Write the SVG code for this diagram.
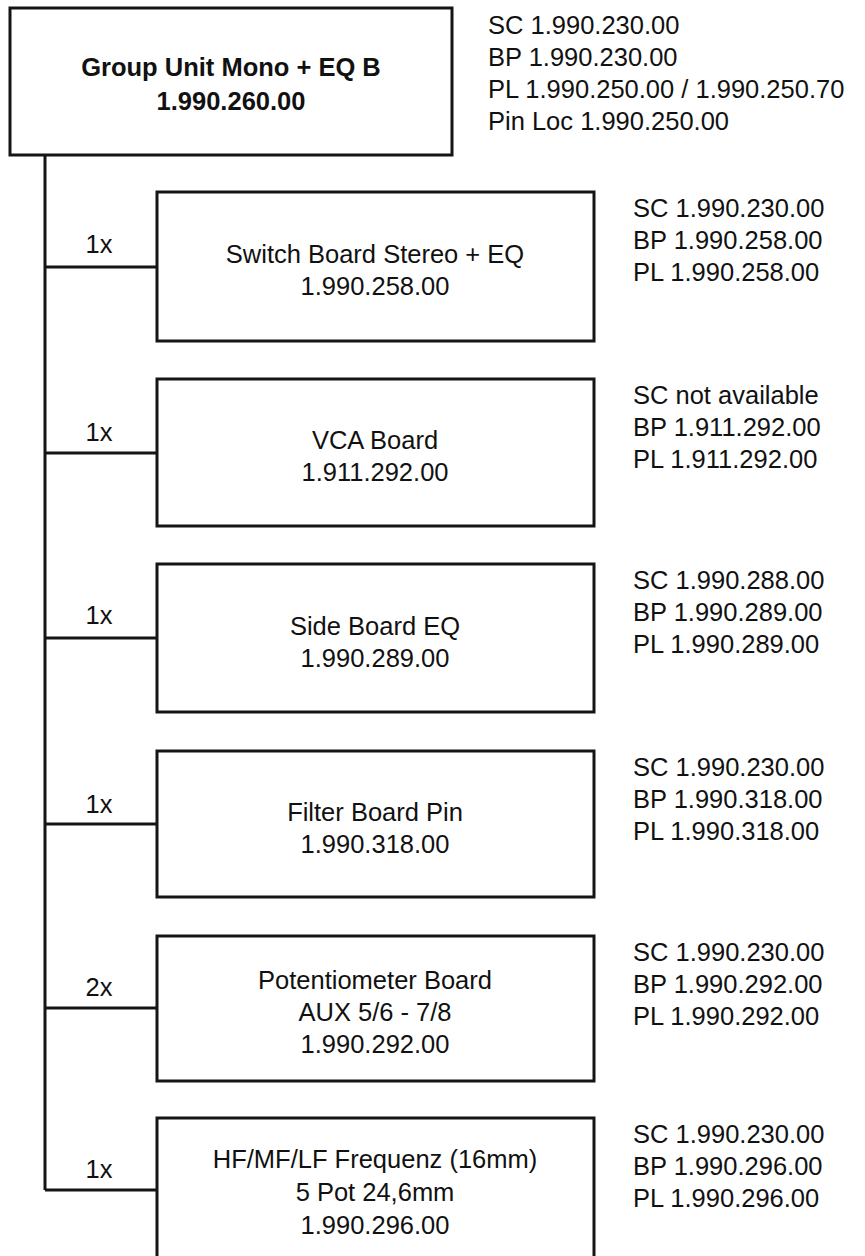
<svg xmlns="http://www.w3.org/2000/svg" width="865" height="1256" viewBox="0 0 865 1256">
<style>
.box{fill:#fff;stroke:#151515;stroke-width:3}
.ln{fill:none;stroke:#151515;stroke-width:3}
text{font-family:"Liberation Sans",Arial,Helvetica,sans-serif;font-size:25.5px;fill:#111}
.c{text-anchor:middle}
.b{font-weight:bold}
</style>
<rect width="865" height="1256" fill="#fff"/>
<g id="connectors">
<path class="ln" d="M45,155 V1190"/>
<path class="ln" d="M45,267 H157"/>
<path class="ln" d="M45,453 H157"/>
<path class="ln" d="M45,638 H157"/>
<path class="ln" d="M45,824 H157"/>
<path class="ln" d="M45,1008 H157"/>
<path class="ln" d="M45,1190 H157"/>
<text class="c" x="99" y="253">1x</text>
<text class="c" x="99" y="441">1x</text>
<text class="c" x="99" y="624">1x</text>
<text class="c" x="99" y="813">1x</text>
<text class="c" x="99" y="996">2x</text>
<text class="c" x="99" y="1178">1x</text>
</g>
<g id="root">
<rect class="box" x="10" y="8" width="442" height="147"/>
<text class="c b" x="231" y="76">Group Unit Mono + EQ B</text>
<text class="c b" x="231" y="110">1.990.260.00</text>
<text x="488" y="34">SC 1.990.230.00</text>
<text x="488" y="66">BP 1.990.230.00</text>
<text x="488" y="98">PL 1.990.250.00 / 1.990.250.70</text>
<text x="488" y="130">Pin Loc 1.990.250.00</text>
</g>
<g id="switch-board">
<rect class="box" x="157" y="192" width="437" height="149"/>
<text class="c" x="375" y="263">Switch Board Stereo + EQ</text>
<text class="c" x="375" y="295">1.990.258.00</text>
<text x="633" y="217">SC 1.990.230.00</text>
<text x="633" y="249">BP 1.990.258.00</text>
<text x="633" y="281">PL 1.990.258.00</text>
</g>
<g id="vca-board">
<rect class="box" x="157" y="379" width="437" height="147"/>
<text class="c" x="375" y="449">VCA Board</text>
<text class="c" x="375" y="481">1.911.292.00</text>
<text x="633" y="404">SC not available</text>
<text x="633" y="436">BP 1.911.292.00</text>
<text x="633" y="468">PL 1.911.292.00</text>
</g>
<g id="side-board">
<rect class="box" x="157" y="564" width="437" height="148"/>
<text class="c" x="375" y="635">Side Board EQ</text>
<text class="c" x="375" y="667">1.990.289.00</text>
<text x="633" y="589">SC 1.990.288.00</text>
<text x="633" y="621">BP 1.990.289.00</text>
<text x="633" y="653">PL 1.990.289.00</text>
</g>
<g id="filter-board">
<rect class="box" x="157" y="751" width="437" height="146"/>
<text class="c" x="375" y="821">Filter Board Pin</text>
<text class="c" x="375" y="853">1.990.318.00</text>
<text x="633" y="776">SC 1.990.230.00</text>
<text x="633" y="808">BP 1.990.318.00</text>
<text x="633" y="840">PL 1.990.318.00</text>
</g>
<g id="pot-board">
<rect class="box" x="157" y="936" width="437" height="145"/>
<text class="c" x="375" y="989">Potentiometer Board</text>
<text class="c" x="375" y="1021">AUX 5/6 - 7/8</text>
<text class="c" x="375" y="1053">1.990.292.00</text>
<text x="633" y="961">SC 1.990.230.00</text>
<text x="633" y="993">BP 1.990.292.00</text>
<text x="633" y="1025">PL 1.990.292.00</text>
</g>
<g id="freq-board">
<rect class="box" x="157" y="1118" width="437" height="150"/>
<text class="c" x="375" y="1168">HF/MF/LF Frequenz (16mm)</text>
<text class="c" x="375" y="1201">5 Pot 24,6mm</text>
<text class="c" x="375" y="1234">1.990.296.00</text>
<text x="633" y="1143">SC 1.990.230.00</text>
<text x="633" y="1175">BP 1.990.296.00</text>
<text x="633" y="1207">PL 1.990.296.00</text>
</g>
</svg>
